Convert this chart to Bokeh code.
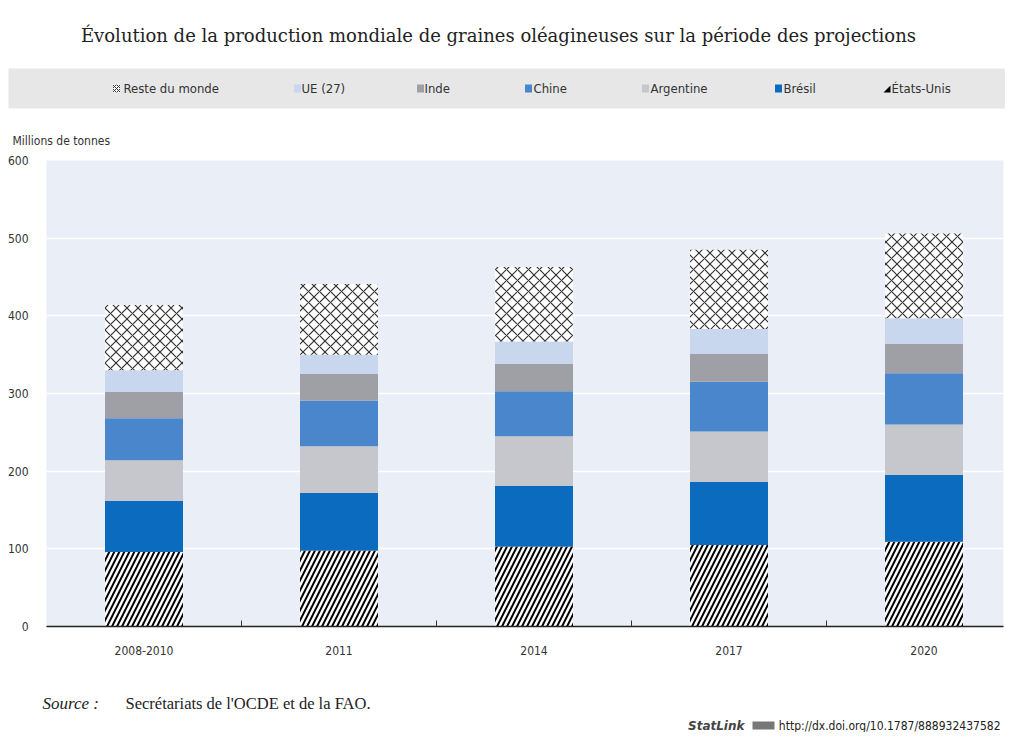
import numpy as np
from bokeh.plotting import figure
from bokeh.layouts import column, row
from bokeh.models import Label, FixedTicker, Range1d
from bokeh.embed import file_html
from bokeh.resources import INLINE

# ---------------- data ----------------
periods = ["2008-2010", "2011", "2014", "2017", "2020"]
etats_unis = [96, 98, 103, 105, 109]
bresil = [66, 74, 78, 81, 86]
argentine = [52, 60, 64, 65, 65]
chine = [54, 59, 58, 64, 66]
inde = [34, 34, 35, 36, 38]
ue27 = [28, 25, 29, 32, 33]
reste_du_monde = [84, 91, 96, 102, 109]

series_names = ["États-Unis", "Brésil", "Argentine", "Chine", "Inde", "UE (27)", "Reste du monde"]
series_values = [etats_unis, bresil, argentine, chine, inde, ue27, reste_du_monde]
y_ticks = [0, 100, 200, 300, 400, 500, 600]

# ---------------- styles ----------------
SANS = "DejaVu Sans Condensed, Liberation Sans Narrow, Roboto, sans-serif"
TITLE_SERIF = "DejaVu Serif, serif"
SERIF = "Liberation Serif, serif"

styles = {
    "États-Unis": dict(fill_color="black", hatch_pattern="/", hatch_color="white", hatch_weight=2.5, hatch_scale=10),
    "Brésil": dict(fill_color="#0b6cbf"),
    "Argentine": dict(fill_color="#c6c7cc"),
    "Chine": dict(fill_color="#4a86cb"),
    "Inde": dict(fill_color="#9fa0a5"),
    "UE (27)": dict(fill_color="#c8d6ee"),
    "Reste du monde": dict(fill_color="white", hatch_pattern="x", hatch_color="#333333", hatch_weight=1.2, hatch_scale=11),
}

W = 1005
H_HEAD, H_MAIN, H_FOOT = 148, 532, 52
FL, FR, FT, FB = 46, 1003, 160, 626  # frame, page px
MAIN_TOP = H_HEAD


def blank(h):
    f = figure(width=W, height=h, output_backend="svg", toolbar_location=None,
               x_range=Range1d(0, W), y_range=Range1d(0, h), x_axis_type=None, y_axis_type=None,
               min_border=0, min_border_left=0, min_border_right=0, min_border_top=0, min_border_bottom=0)
    f.outline_line_color = None
    f.background_fill_color = "white"
    f.border_fill_color = "white"
    f.grid.visible = False
    return f

# ---------------- header ----------------
head = blank(H_HEAD)
hy = lambda y: H_HEAD - y
head.add_layout(Label(x=498, y=hy(35), text="Évolution de la production mondiale de graines oléagineuses sur la période des projections",
                      text_align="center", text_baseline="middle", text_font=TITLE_SERIF,
                      text_font_size="18px", text_color="#222222"))
head.quad(left=[8], right=[1005], bottom=[hy(108)], top=[hy(68)], fill_color="#e7e7e7", line_color=None)

legend_pos = {
    "Reste du monde": (116, 123),
    "UE (27)": (297, 301),
    "Inde": (420, 424),
    "Chine": (528, 533),
    "Argentine": (645, 650),
    "Brésil": (778, 783),
    "États-Unis": (887, 891),
}
for name in reversed(series_names):
    ix, tx = legend_pos[name]
    st = dict(styles[name])
    if name == "États-Unis":
        head.patch(x=[ix - 4, ix + 3, ix + 3], y=[hy(92), hy(85), hy(92)], fill_color="black", line_color=None)
    else:
        if name == "Reste du monde":
            st.update(hatch_weight=1, hatch_scale=4)
        head.quad(left=[ix - 3.5], right=[ix + 3.5], bottom=[hy(92)], top=[hy(84)], line_color=None, **st)
    head.add_layout(Label(x=tx, y=hy(88), text=name, text_align="left", text_baseline="middle",
                          text_font=SANS, text_font_size="13px", text_color="#333333"))

head.add_layout(Label(x=12, y=hy(140), text="Millions de tonnes", text_align="left", text_baseline="middle",
                      text_font=SANS, text_font_size="12px", text_color="#333333"))

# ---------------- main chart ----------------
x_start = 0.0
x_end = x_start + (FR - FL) / 195.0
p = figure(width=W, height=H_MAIN, output_backend="svg", toolbar_location=None,
           x_range=Range1d(x_start, x_end), y_range=Range1d(0, 600),
           min_border_left=FL, min_border_right=W - FR, min_border_top=FT - MAIN_TOP,
           min_border_bottom=MAIN_TOP + H_MAIN - FB)
p.background_fill_color = "#eaeef6"
p.border_fill_color = "white"
p.outline_line_color = None

xc = np.arange(len(periods)) + 0.5
bottom = np.zeros(len(periods))
for name, vals in zip(series_names, series_values):
    vals = np.array(vals, dtype=float)
    p.vbar(x=xc, bottom=bottom, top=bottom + vals, width=0.4, line_color=None, **styles[name])
    bottom = bottom + vals

p.xaxis.ticker = FixedTicker(ticks=list(xc), minor_ticks=[1, 2, 3, 4])
p.xaxis.major_label_overrides = {float(x): lab for x, lab in zip(xc, periods)}
p.xaxis.major_tick_line_color = None
p.xaxis.minor_tick_in = 6
p.xaxis.minor_tick_out = 0
p.xaxis.minor_tick_line_color = "#333333"
p.xaxis.axis_line_color = "#222222"
p.xaxis.axis_line_width = 1.5
p.xaxis.major_label_standoff = 13
p.xaxis.major_label_text_font = SANS
p.xaxis.major_label_text_font_size = "12px"
p.xaxis.major_label_text_color = "#333333"

p.yaxis.ticker = FixedTicker(ticks=y_ticks)
p.yaxis.axis_line_color = None
p.yaxis.major_tick_line_color = None
p.yaxis.minor_tick_line_color = None
p.yaxis.major_label_standoff = 12
p.yaxis.major_label_text_font = SANS
p.yaxis.major_label_text_font_size = "12px"
p.yaxis.major_label_text_color = "#333333"

p.xgrid.grid_line_color = None
p.ygrid.grid_line_color = "white"
p.ygrid.grid_line_width = 1.5

# ---------------- footer ----------------
foot = blank(H_FOOT)
FOOT_TOP = MAIN_TOP + H_MAIN
fy = lambda y: H_FOOT - (y - FOOT_TOP)
foot.add_layout(Label(x=42, y=fy(703), text="Source :", text_align="left", text_baseline="middle",
                      text_font=SERIF, text_font_style="italic", text_font_size="17px", text_color="#222222"))
foot.add_layout(Label(x=125, y=fy(703), text="Secrétariats de l'OCDE et de la FAO.", text_align="left",
                      text_baseline="middle", text_font=SERIF, text_font_size="16.5px", text_color="#222222"))
foot.add_layout(Label(x=1000, y=fy(725), text="http://dx.doi.org/10.1787/888932437582", text_align="right",
                      text_baseline="middle", text_font=SANS, text_font_size="12px", text_color="#222222"))
foot.quad(left=[752], right=[774], bottom=[fy(729)], top=[fy(721)], fill_color="#777777", line_color=None)
foot.add_layout(Label(x=744, y=fy(725), text="StatLink", text_align="right", text_baseline="middle",
                      text_font="DejaVu Sans, sans-serif", text_font_style="bold italic", text_font_size="12px",
                      text_color="#444444"))

layout = column(row(head), p, row(foot), spacing=0)
open("out.html", "w").write(file_html(layout, INLINE))
